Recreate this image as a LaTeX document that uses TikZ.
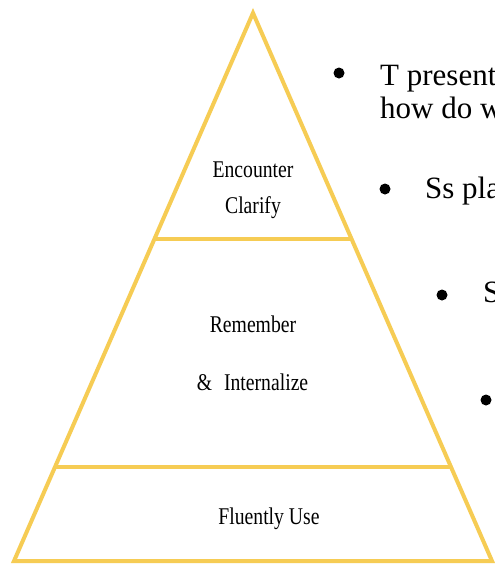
\documentclass[tikz,border=0pt]{standalone}
\usepackage{fontspec}
\setmainfont{Liberation Serif}
\newfontfamily\pyrfont[FakeStretch=0.82]{Liberation Serif}
\usetikzlibrary{calc}
\definecolor{pyrgold}{RGB}{246,204,84}

\begin{document}
\begin{tikzpicture}[
  x=1pt,y=-1pt,
  edge/.style={draw=pyrgold,line width=4pt,line join=miter},
  layer/.style={font=\pyrfont\fontsize{24}{26}\selectfont,inner sep=0pt,anchor=base},
  item/.style={font=\fontsize{31}{33}\selectfont,inner sep=0pt,anchor=base west},
  dot/.style={circle,fill=black,inner sep=0pt,minimum size=11pt}
]
\clip (0,0) rectangle (495,565);
\fill[white] (0,0) rectangle (495,565);
% pyramid outline
\coordinate (apex) at (253,13);
\coordinate (bl) at (14,561);
\coordinate (br) at (492,561);
\draw[edge] (apex) -- (br) -- (bl) -- cycle;
\coordinate (l1) at ($(apex)!0.412!(bl)$);
\coordinate (r1) at ($(apex)!0.412!(br)$);
\coordinate (l2) at ($(apex)!0.828!(bl)$);
\coordinate (r2) at ($(apex)!0.828!(br)$);
\draw[edge] (l1) -- (r1);
\draw[edge] (l2) -- (r2);
% layer labels
\node[layer] (enc) at (253,177) {Encounter};
\node[layer] (cla) at (253,213) {Clarify};
\node[layer] (rem) at (253,332) {Remember};
\node[layer] (int) at (252.5,390) {\&\hspace{12pt}Internalize};
\node[layer] (flu) at (269,524) {Fluently Use};
% bullets on the right
\node[dot] (b1) at (339,73) {};
\node[item] (t1) at (380,85) {T present};
\node[item] (t1b) at (380,118) {how do w};
\node[dot] (b2) at (385,189) {};
\node[item] (t2) at (425,198) {Ss pla};
\node[dot] (b3) at (442,295) {};
\node[item] (t3) at (483,302) {S};
\node[dot] (b4) at (486,400) {};
\end{tikzpicture}
\end{document}
